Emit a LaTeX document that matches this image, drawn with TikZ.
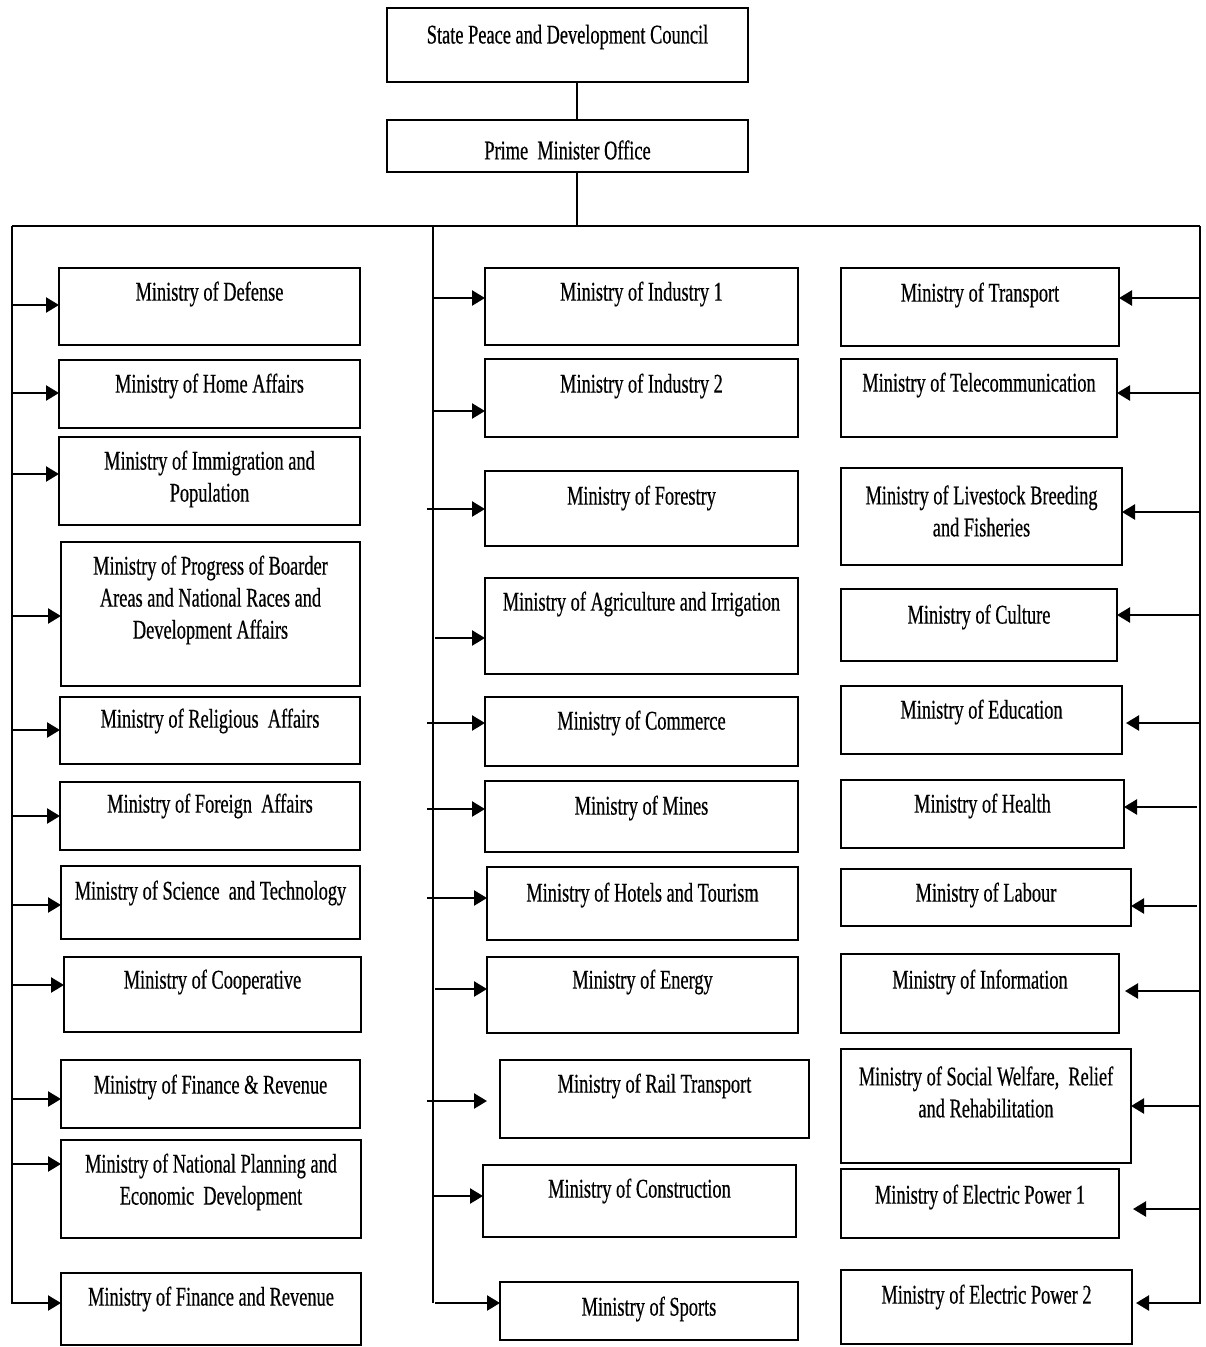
\documentclass[tikz,border=0pt]{standalone}
\usepackage{fontspec}
\setmainfont{Liberation Serif}[FakeStretch=0.68,FakeBold=0.5]
\usetikzlibrary{arrows.meta,calc}

% box given by its corners (x1,y1)-(x2,y2), label centred at height #6
\newcommand\minbox[7]{%
  \node[orgbox, minimum width={(#4-#2)*1pt}, minimum height={(#5-#3)*1pt}]
    (#1) at ({(#2+#4)/2},{(#3+#5)/2}) {};
  \node[orgtxt] (#1-t) at ({(#2+#4)/2},#6) {#7};
}

\begin{document}
\begin{tikzpicture}[x=1pt,y=-1pt,
  orgbox/.style={draw, line width=2.1pt, inner sep=0pt, outer sep=0pt},
  orgtxt/.style={inner sep=0pt, align=center,
    font=\fontsize{27}{32}\selectfont},
  trunk/.style={line width=2.1pt},
  arr/.style={line width=2.4pt, -{Triangle[length=13pt,width=15pt]}}]
\useasboundingbox (0,0) rectangle (1206,1347);

% top of the hierarchy
\minbox{spdc}{387}{8}{748}{82}{37}{State Peace and Development Council}
\minbox{pmo}{387}{120}{748}{172}{150}{Prime\,\ Minister Office}

% left column
\minbox{def}{59}{268}{360}{345}{294}{Ministry of Defense}
\minbox{home}{59}{360}{360}{428}{386}{Ministry of Home Affairs}
\minbox{immi}{59}{437}{360}{525}{479}{Ministry of Immigration and\\Population}
\minbox{prog}{61}{542}{360}{686}{600}{Ministry of Progress of Boarder\\Areas and National Races and\\Development Affairs}
\minbox{relig}{60}{697}{360}{764}{721}{Ministry of Religious\, Affairs}
\minbox{forn}{60}{782}{360}{850}{806}{Ministry of Foreign\, Affairs}
\minbox{sci}{61}{866}{360}{939}{893}{Ministry of Science\, and Technology}
\minbox{coop}{64}{957}{361}{1032}{982}{Ministry of Cooperative}
\minbox{finA}{61}{1060}{360}{1128}{1087}{Ministry of Finance \& Revenue}
\minbox{natp}{61}{1140}{361}{1238}{1182}{Ministry of National Planning and\\Economic\, Development}
\minbox{finB}{61}{1273}{361}{1345}{1299}{Ministry of Finance and Revenue}

% middle column
\minbox{ind1}{485}{268}{798}{345}{294}{Ministry of Industry 1}
\minbox{ind2}{485}{359}{798}{437}{386}{Ministry of Industry 2}
\minbox{forst}{485}{471}{798}{546}{498}{Ministry of Forestry}
\minbox{agri}{485}{578}{798}{674}{604}{Ministry of Agriculture and Irrigation}
\minbox{comm}{485}{697}{798}{766}{723}{Ministry of Commerce}
\minbox{mine}{485}{781}{798}{852}{808}{Ministry of Mines}
\minbox{hotel}{487}{867}{798}{940}{895}{Ministry of Hotels and Tourism}
\minbox{energ}{487}{957}{798}{1033}{982}{Ministry of Energy}
\minbox{rail}{500}{1060}{809}{1138}{1086}{Ministry of Rail Transport}
\minbox{cons}{483}{1165}{796}{1237}{1191}{Ministry of Construction}
\minbox{sport}{500}{1282}{798}{1340}{1309}{Ministry of Sports}

% right column
\minbox{trans}{841}{268}{1119}{346}{295}{Ministry of Transport}
\minbox{tele}{841}{359}{1117}{437}{385}{Ministry of Telecommunication}
\minbox{live}{841}{468}{1122}{565}{511}{Ministry of Livestock Breeding\\and Fisheries}
\minbox{cult}{841}{589}{1117}{661}{617}{Ministry of Culture}
\minbox{edu}{841}{686}{1122}{754}{712}{Ministry of Education}
\minbox{hlth}{841}{780}{1124}{848}{806}{Ministry of Health}
\minbox{lab}{841}{869}{1131}{926}{895}{Ministry of Labour}
\minbox{info}{841}{954}{1119}{1033}{982}{Ministry of Information}
\minbox{soc}{841}{1049}{1131}{1163}{1092}{Ministry of Social Welfare,\, Relief\\and Rehabilitation}
\minbox{ep1}{841}{1169}{1119}{1238}{1197}{Ministry of Electric Power 1}
\minbox{ep2}{841}{1270}{1132}{1344}{1297}{Ministry of Electric Power 2}

% distribution bus and trunks
\coordinate (busC) at (577,226);
\coordinate (busL) at (12,226);
\coordinate (busM) at (433,226);
\coordinate (busR) at (1200,226);
\coordinate (endL) at (12,1303);
\coordinate (endM) at (433,1303);
\coordinate (endR) at (1200,1303);

\draw[trunk] (spdc.south -| busC) -- (pmo.north -| busC);
\draw[trunk] (pmo.south -| busC) -- (busC);
\draw[trunk] (busL) -- (busR);
\draw[trunk] (busM) -- (endM);
\draw[arr] (busL) -- (endL) -- (endL -| finB.west);
\draw[arr, shorten >=4pt] (busR) -- (endR) -- (endR -| ep2.east);

% arrows from the left and middle trunks
\foreach \b/\sx/\y/\sh in {def/12/305/0, home/12/393/0, immi/12/474/0,
    prog/12/616/0, relig/12/730/0, forn/12/816/0, sci/12/905/0,
    coop/12/985/0, finA/12/1099/0, natp/12/1164/0,
    ind1/433/298/0, ind2/433/411/0, forst/427/509/0, agri/435/638/0,
    comm/427/723/0, mine/427/809/0, hotel/427/898/0, energ/435/989/0,
    rail/427/1101/13, cons/433/1196/0, sport/435/1303/0} {
  \coordinate (s-\b) at (\sx,\y);
  \draw[arr, shorten >=\sh pt] (s-\b) -- (s-\b -| \b.west);
}

% arrows from the right trunk
\foreach \b/\sx/\y/\sh in {trans/1200/298/0, tele/1200/393/0,
    live/1200/512/0, cult/1200/615/0, edu/1200/723/4, hlth/1197/807/0,
    lab/1197/906/0, info/1200/991/6, soc/1200/1106/0, ep1/1200/1209/14} {
  \coordinate (s-\b) at (\sx,\y);
  \draw[arr, shorten >=\sh pt] (s-\b) -- (s-\b -| \b.east);
}
\end{tikzpicture}
\end{document}
